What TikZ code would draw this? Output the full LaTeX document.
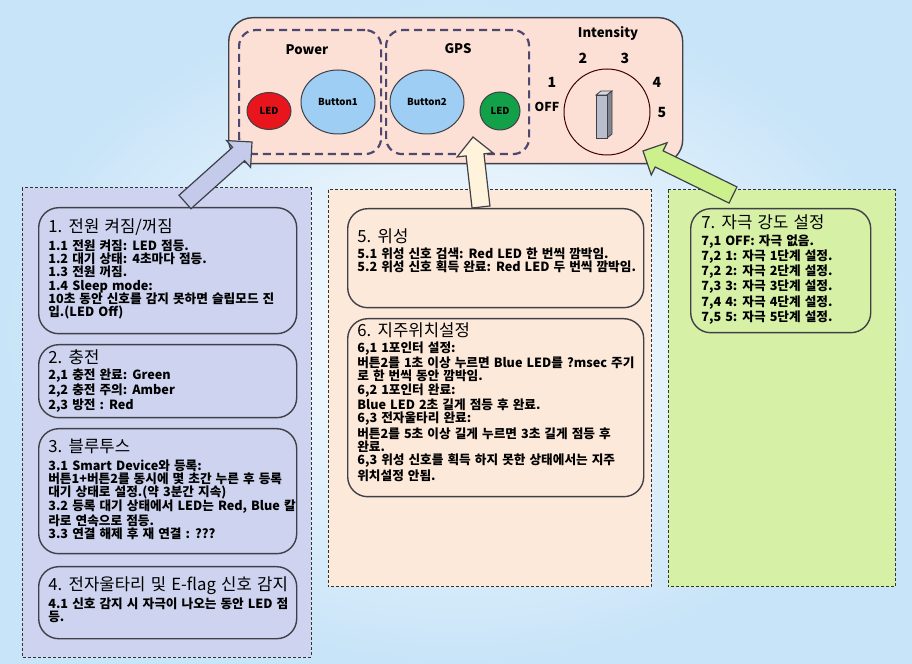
\documentclass[tikz,border=0pt]{standalone}
\usepackage{fontspec}
\setmainfont{Noto Sans CJK KR}[WordSpace=1.4]
\usetikzlibrary{calc,positioning,shapes.geometric}

\newlength{\du}
\setlength{\du}{0.2mm}

\definecolor{bgblue}{RGB}{200,228,248}
\definecolor{panelpink}{RGB}{252,224,214}
\definecolor{dashpurple}{RGB}{78,72,112}
\definecolor{ledred}{RGB}{232,22,28}
\definecolor{ledgreen}{RGB}{18,160,72}
\definecolor{btnblue}{RGB}{158,206,244}
\definecolor{knobgrey}{RGB}{186,190,204}
\definecolor{lavender}{RGB}{206,212,240}
\definecolor{peach}{RGB}{253,233,218}
\definecolor{lightgreen}{RGB}{214,240,166}
\definecolor{edgegrey}{RGB}{64,64,72}
\definecolor{arrowlav}{RGB}{196,202,234}
\definecolor{arrowcream}{RGB}{255,243,220}
\definecolor{arrowgreen}{RGB}{204,240,140}

\tikzset{
  groupbox/.style={draw=dashpurple, line width=2.2\du, dash pattern=on 8\du off 5\du,
    rounded corners=16\du, anchor=north west, inner sep=0pt},
  panel/.style={draw=black!80, line width=1\du, dash pattern=on 3\du off 2\du},
  infobox/.style={draw=edgegrey, line width=1.4\du, rounded corners=20\du,
    anchor=north west, inner sep=0pt},
  ttl/.style={anchor=west, inner sep=0pt, font={\fontsize{9.5}{11}\selectfont}},
  txt/.style={anchor=north west, inner sep=0pt, align=left,
    font={\fontsize{7.2}{7.6}\selectfont\bfseries}},
  lbl/.style={inner sep=0pt, font={\fontsize{7.5}{9}\selectfont\bfseries}},
  num/.style={inner sep=0pt, font={\fontsize{8}{9}\selectfont\bfseries}},
  lamp/.style={ellipse, draw=edgegrey, line width=1\du, inner sep=0pt,
    font={\fontsize{5.5}{6}\selectfont\bfseries}},
  bigarrow/.style={draw=edgegrey, line width=1.2\du, line join=miter},
}

% block arrow: style, tail, tip
\newcommand{\fatarrow}[3]{%
  \coordinate (neck) at ($(#3)!18\du!(#2)$);
  \draw[bigarrow, #1] ($(#2)!9\du!90:(#3)$) -- ($(neck)!9\du!90:(#3)$)
    -- ($(neck)!18\du!90:(#3)$) -- (#3) -- ($(neck)!18\du!-90:(#3)$)
    -- ($(neck)!9\du!-90:(#3)$) -- ($(#2)!9\du!-90:(#3)$) -- cycle;
}

\begin{document}
\begin{tikzpicture}
\pgftransformxscale{1.000000}
\pgftransformyscale{-1.000000}
% background
\shade[inner color=white, outer color=bgblue] (0\du,0\du) rectangle (912\du,664\du);
\useasboundingbox (0\du,0\du) rectangle (912\du,664\du);

% device
\node[draw=edgegrey, fill=panelpink, line width=1.4\du, rounded corners=24\du,
  minimum width=454\du, minimum height=146\du, anchor=north west, inner sep=0pt]
  (device) at (228\du,17\du) {};
\node[groupbox, minimum width=142\du, minimum height=124\du] (power) at (238\du,29\du) {};
\node[groupbox, minimum width=143\du, minimum height=124\du] (gps) at (385\du,29\du) {};
\node[lbl] (powerlbl) at (307\du,50\du) {Power};
\node[lbl] (gpslbl) at (458\du,49\du) {GPS};
\node[lamp, fill=ledred, minimum width=44\du, minimum height=37\du] (redled) at (269\du,111\du) {LED};
\node[lamp, fill=btnblue, minimum width=74\du, minimum height=64\du] (button1) at (338\du,102\du) {Button1};
\node[lamp, fill=btnblue, minimum width=74\du, minimum height=64\du] (button2) at (427\du,102\du) {Button2};
\node[lamp, fill=ledgreen, minimum width=40\du, minimum height=38\du] (greenled) at (500\du,111\du) {LED};

% intensity
\node[lbl] (intlbl) at (608\du,33\du) {Intensity};
\node[num] (n2) at (583\du,58\du) {2};
\node[num] (n3) at (625\du,58\du) {3};
\node[num] (n1) at (552\du,82\du) {1};
\node[num] (n4) at (657\du,82\du) {4};
\node[num, font={\fontsize{7}{8}\selectfont\bfseries}] (noff) at (547\du,107\du) {OFF};
\node[num] (n5) at (662\du,113\du) {5};
\node[circle, draw=black!75!red, line width=1\du, minimum size=86\du, inner sep=0pt] (knob) at (607\du,112\du) {};
\fill[knobgrey!60!white, draw=edgegrey, line width=0.8\du] (596\du,95\du) -- (601\du,91\du) -- (612\du,91\du) -- (607\du,95\du) -- cycle;
\fill[knobgrey!70!black, draw=edgegrey, line width=0.8\du] (607\du,95\du) -- (612\du,91\du) -- (612\du,134\du) -- (607\du,138\du) -- cycle;
\fill[knobgrey, draw=edgegrey, line width=0.8\du] (596\du,95\du) rectangle (607\du,138\du);

% panels
\draw[panel, fill=lavender] (22\du,188\du) rectangle (311\du,657\du);
\draw[panel, fill=peach] (328\du,190\du) rectangle (651\du,587\du);
\draw[panel, fill=lightgreen] (668\du,190\du) rectangle (895\du,587\du);

% 1
\node[infobox, fill=lavender, minimum width=258\du, minimum height=126\du] (box1) at (38\du,207\du) {};
\node[ttl] (t1) at (48\du,227\du) {1. 전원 켜짐/꺼짐};
\node[txt] (b1) at (48\du,239\du) {1.1 전원 켜짐: LED 점등.\\1.2 대기 상태: 4초마다 점등.\\1.3 전원 꺼짐.\\1.4 Sleep mode:\\10초 동안 신호를 감지 못하면 슬립모드 진\\입.(LED Off)};
% 2
\node[infobox, fill=lavender, minimum width=258\du, minimum height=73\du] (box2) at (38\du,344\du) {};
\node[ttl] (t2) at (48\du,357\du) {2. 충전};
\node[txt] (b2) at (48\du,368\du) {2,1 충전 완료: Green\\2,2 충전 주의: Amber\\2,3 방전 : Red};
% 3
\node[infobox, fill=lavender, minimum width=258\du, minimum height=125\du] (box3) at (38\du,428\du) {};
\node[ttl] (t3) at (48\du,446\du) {3. 블루투스};
\node[txt] (b3) at (48\du,459\du) {3.1 Smart Device와 등록:\\버튼1+버튼2를 동시에 몇 초간 누른 후 등록\\대기 상태로 설정.(약 3분간 지속)\\3.2 등록 대기 상태에서 LED는 Red, Blue 칼\\라로 연속으로 점등.\\3.3 연결 해제 후 재 연결 : ???};
% 4
\node[infobox, fill=lavender, minimum width=258\du, minimum height=72\du] (box4) at (38\du,566\du) {};
\node[ttl] (t4) at (48\du,586\du) {4. 전자울타리 및 E-flag 신호 감지};
\node[txt] (b4) at (48\du,597\du) {4.1 신호 감지 시 자극이 나오는 동안 LED 점\\등.};
% 5
\node[infobox, fill=peach, minimum width=296\du, minimum height=99\du] (box5) at (347\du,208\du) {};
\node[ttl] (t5) at (357\du,236\du) {5. 위성};
\node[txt] (b5) at (357\du,247\du) {5.1 위성 신호 검색: Red LED 한 번씩 깜박임.\\5.2 위성 신호 획득 완료: Red LED 두 번씩 깜박임.};
% 6
\node[infobox, fill=peach, minimum width=296\du, minimum height=178\du] (box6) at (347\du,318\du) {};
\node[ttl] (t6) at (357\du,330\du) {6. 지주위치설정};
\node[txt] (b6) at (357\du,341\du) {6,1 1포인터 설정:\\버튼2를 1초 이상 누르면 Blue LED를 ?msec 주기\\로 한 번씩 동안 깜박임.\\6,2 1포인터 완료:\\Blue LED 2초 길게 점등 후 완료.\\6,3 전자울타리 완료:\\버튼2를 5초 이상 길게 누르면 3초 길게 점등 후\\완료.\\6,3 위성 신호를 획득 하지 못한 상태에서는 지주\\위치설정 안됨.};
% 7
\node[infobox, fill=lightgreen, minimum width=180\du, minimum height=124\du] (box7) at (690\du,208\du) {};
\node[ttl] (t7) at (701\du,222\du) {7. 자극 강도 설정};
\node[txt] (b7) at (701\du,234\du) {7,1 OFF: 자극 없음.\\7,2 1: 자극 1단계 설정.\\7,2 2: 자극 2단계 설정.\\7,3 3: 자극 3단계 설정.\\7,4 4: 자극 4단계 설정.\\7,5 5: 자극 5단계 설정.};

% arrows
\coordinate (tail1) at (185\du,202\du);
\coordinate (tip1) at (252\du,142\du);
\coordinate (tail2) at (481\du,207\du);
\coordinate (tip2) at (473\du,137\du);
\coordinate (tail3) at (733\du,195\du);
\coordinate (tip3) at (643\du,151\du);
\fatarrow{fill=arrowlav}{tail1}{tip1}
\fatarrow{fill=arrowcream}{tail2}{tip2}
\fatarrow{fill=arrowgreen}{tail3}{tip3}
\end{tikzpicture}
\end{document}
